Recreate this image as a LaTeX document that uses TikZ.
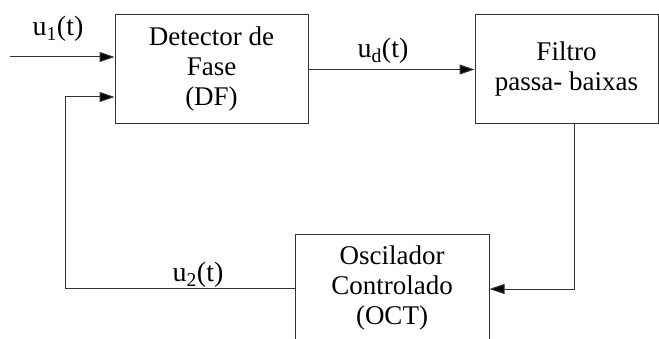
\documentclass[tikz,border=0pt]{standalone}
\usepackage{fontspec}
\setmainfont{Liberation Serif}
\usetikzlibrary{arrows.meta}

\tikzset{
  blk/.style={draw=black!80, line width=1pt, align=center, inner sep=0pt,
    font=\rmfamily\fontsize{27}{30}\selectfont},
  sig/.style={draw=black!80, line width=1pt,
    -{Triangle[length=15pt,width=10pt,fill=black]}},
  lbl/.style={font=\rmfamily\fontsize{28}{30}\selectfont, inner sep=0pt}
}

\begin{document}
\begin{tikzpicture}[x=1pt, y=1pt, line cap=butt, line join=miter]
\useasboundingbox (0,0) rectangle (659,338);
\clip (0,0) rectangle (659,338);
% blocks
\node[blk, minimum width=193pt, minimum height=109pt] (df) at (211.5,268.5)
  {Detector de\\Fase\\(DF)};
\node[blk, minimum width=183pt, minimum height=109pt] (lpf) at (566.5,268.5)
  {Filtro\\passa- baixas};
\node[blk, minimum width=194pt, minimum height=108pt] (oct) at (392,50)
  {Oscilador\\Controlado\\(OCT)};
% points of the loop
\coordinate (in) at (10,281);
\coordinate (tap) at (574,49);
\coordinate (fb) at (65,50);
\coordinate (fbtop) at (65,241);
% connectors
\draw[sig] (in) -- (in -| df.west);
\draw[sig] (df.east) -- (lpf.west);
\draw[sig] (lpf.south -| tap) -- (tap) -- (oct.east |- tap);
\draw[sig] (oct.west) -- (fb) -- (fbtop) -- (fbtop -| df.west);
% signal names
\node[lbl] (u1) at (58,309) {u\textsubscript{1}(t)};
\node[lbl] (ud) at (383,287) {u\textsubscript{d}(t)};
\node[lbl] (u2) at (198,63) {u\textsubscript{2}(t)};
\end{tikzpicture}
\end{document}
